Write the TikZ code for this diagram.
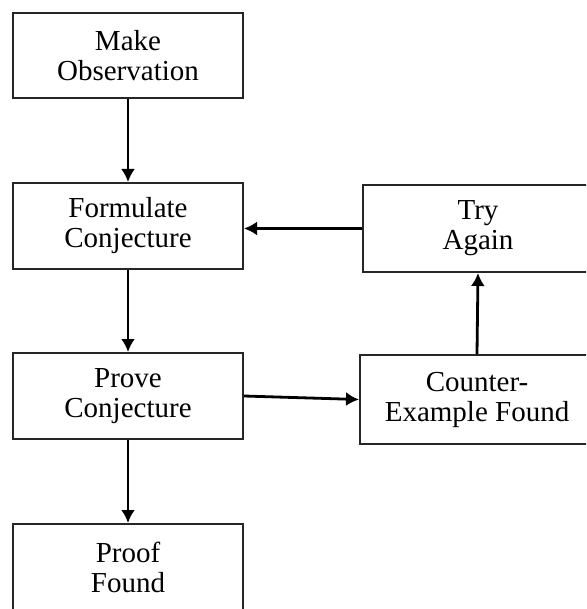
\documentclass[tikz,border=0pt]{standalone}
\usepackage{fontspec}
\setmainfont{Liberation Serif}
\usetikzlibrary{arrows.meta}

\begin{document}
\begin{tikzpicture}[x=0.5pt,y=-0.5pt,
stepbox/.style={draw=black!85,line width=1pt,align=center,
font=\fontsize{14.5}{15}\selectfont,inner sep=0pt},
flow/.style={-{Latex[length=6.5pt,width=7pt]},line width=1.4pt}]
\clip (0,0) rectangle (586,609);
\useasboundingbox (0,0) rectangle (586,609);
\node (make) [stepbox,minimum width=115pt,minimum height=42.5pt] at (128,55.5) {Make\\Observation};
\node (form) [stepbox,minimum width=115pt,minimum height=43pt] at (128,226) {Formulate\\Conjecture};
\node (prove) [stepbox,minimum width=115pt,minimum height=43pt] at (128,396) {Prove\\Conjecture};
\node (proof) [stepbox,minimum width=115pt,minimum height=43pt] at (128,567) {Proof\\Found};
\node (try) [stepbox,minimum width=115pt,minimum height=43.5pt] at (478,228.5) {Try\\Again};
\node (counter) [stepbox,minimum width=117pt,minimum height=44.5pt] at (477,399.5) {Counter-\\Example Found};
\draw [flow] (make) -- (form);
\draw [flow] (form) -- (prove);
\draw [flow] (prove) -- (proof);
\draw [flow] (prove.east) -- (counter.west);
\draw [flow] (counter.north) -- (try.south);
\draw [flow] (try.west) -- (try.west -| form.east);
\end{tikzpicture}
\end{document}
